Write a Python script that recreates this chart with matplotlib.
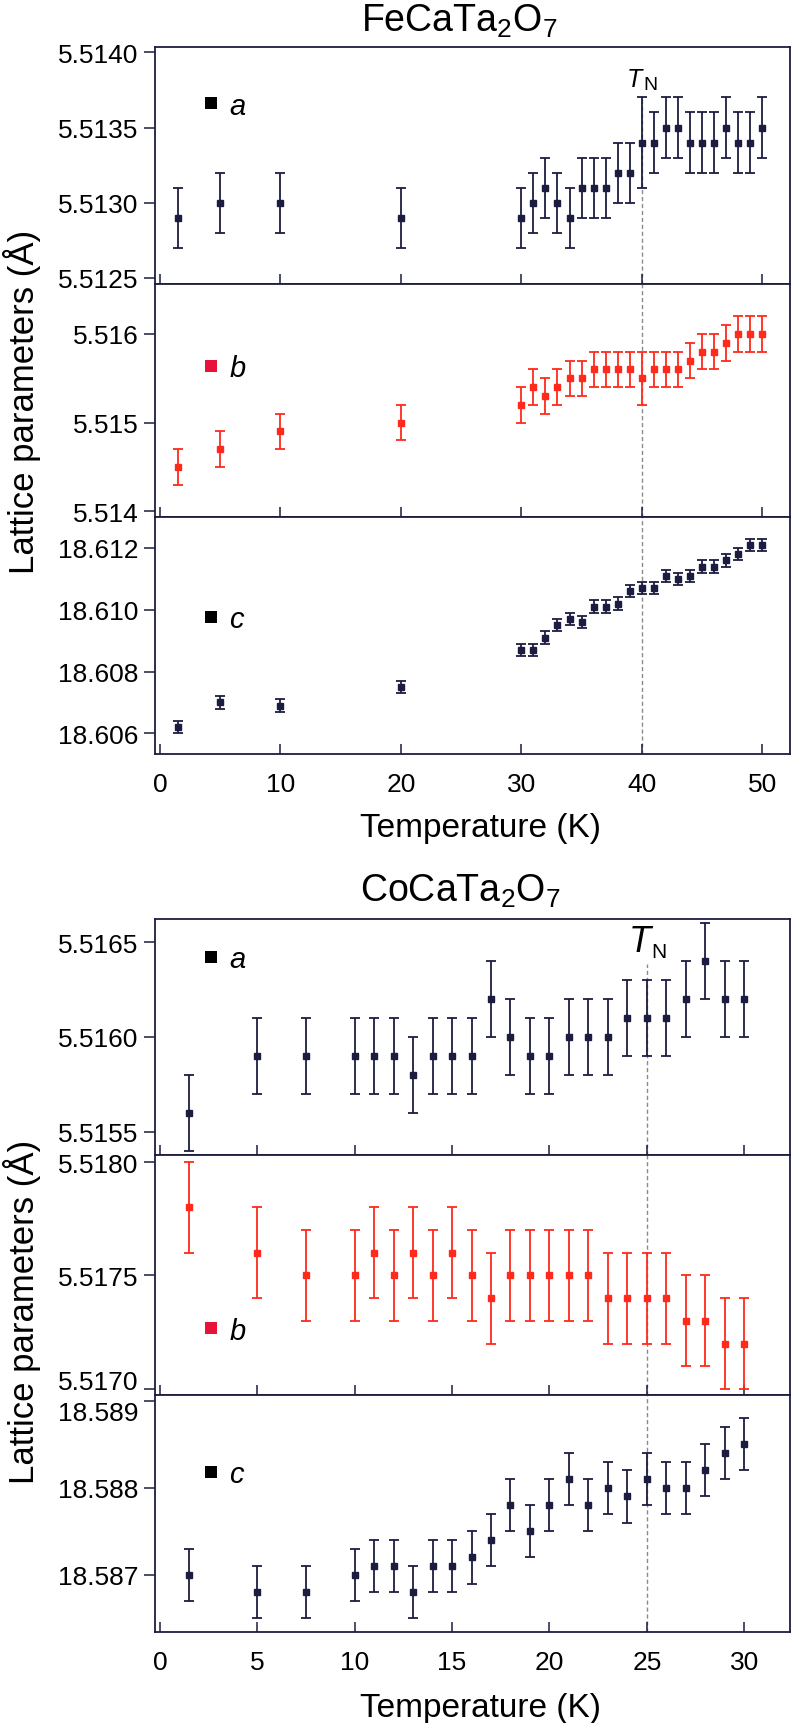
import matplotlib
matplotlib.use("Agg")
import matplotlib.pyplot as plt
from matplotlib.lines import Line2D
from matplotlib.ticker import FormatStrFormatter

plt.rcParams['font.family'] = ['Liberation Sans', 'DejaVu Sans']
plt.rcParams['mathtext.fontset'] = 'custom'
plt.rcParams['mathtext.rm'] = 'Liberation Sans'
plt.rcParams['mathtext.it'] = 'Liberation Sans:italic'

# FeCaTa2O7
fe_T = [1.5, 5, 10, 20, 30, 31, 32, 33, 34, 35, 36, 37, 38, 39, 40,
        41, 42, 43, 44, 45, 46, 47, 48, 49, 50]
fe_a = [5.5129, 5.5130, 5.5130, 5.5129, 5.5129, 5.5130, 5.5131, 5.5130, 5.5129,
        5.5131, 5.5131, 5.5131, 5.5132, 5.5132, 5.5134, 5.5134, 5.5135, 5.5135,
        5.5134, 5.5134, 5.5134, 5.5135, 5.5134, 5.5134, 5.5135]
fe_a_err = [0.0002] * 14 + [0.0003] + [0.0002] * 10
fe_b = [5.5145, 5.5147, 5.5149, 5.5150, 5.5152, 5.5154, 5.5153, 5.5154, 5.5155,
        5.5155, 5.5156, 5.5156, 5.5156, 5.5156, 5.5155, 5.5156, 5.5156, 5.5156,
        5.5157, 5.5158, 5.5158, 5.5159, 5.5160, 5.5160, 5.5160]
fe_b_err = [0.0002] * 14 + [0.0003] + [0.0002] * 10
fe_c = [18.6062, 18.6070, 18.6069, 18.6075, 18.6087, 18.6087, 18.6091, 18.6095,
        18.6097, 18.6096, 18.6101, 18.6101, 18.6102, 18.6106, 18.6107, 18.6107,
        18.6111, 18.6110, 18.6111, 18.6114, 18.6114, 18.6116, 18.6118, 18.6121,
        18.6121]
fe_c_err = [0.0002] * 25
fe_TN = 40

# CoCaTa2O7
co_T = [1.5, 5, 7.5, 10, 11, 12, 13, 14, 15, 16, 17, 18, 19, 20,
        21, 22, 23, 24, 25, 26, 27, 28, 29, 30]
co_a = [5.5156, 5.5159, 5.5159, 5.5159, 5.5159, 5.5159, 5.5158, 5.5159, 5.5159,
        5.5159, 5.5162, 5.5160, 5.5159, 5.5159, 5.5160, 5.5160, 5.5160, 5.5161,
        5.5161, 5.5161, 5.5162, 5.5164, 5.5162, 5.5162]
co_a_err = [0.0002] * 24
co_b = [5.5178, 5.5176, 5.5175, 5.5175, 5.5176, 5.5175, 5.5176, 5.5175, 5.5176,
        5.5175, 5.5174, 5.5175, 5.5175, 5.5175, 5.5175, 5.5175, 5.5174, 5.5174,
        5.5174, 5.5174, 5.5173, 5.5173, 5.5172, 5.5172]
co_b_err = [0.0002] * 24
co_c = [18.5870, 18.5868, 18.5868, 18.5870, 18.5871, 18.5871, 18.5868, 18.5871,
        18.5871, 18.5872, 18.5874, 18.5878, 18.5875, 18.5878, 18.5881, 18.5878,
        18.5880, 18.5879, 18.5881, 18.5880, 18.5880, 18.5882, 18.5884, 18.5885]
co_c_err = [0.0003] * 24
co_TN = 25

navy = '#1c1c40'
red = '#ff2a1c'
W, H = 793, 1724


def add_ax(fig, top, bottom):
    return fig.add_axes([154.8 / W, 1 - bottom / H, (790 - 154.8) / W, (bottom - top) / H])


def panel(ax, T, y, err, col, xlim, xticks, ylim, yticks, fmt,
          letter, lcol, ly, tn, vtop=1.0, bottom=False):
    ax.axvline(tn, ymax=vtop, color='#8a8a8a', lw=1.0, ls=(0, (3, 2)), zorder=1)
    ax.errorbar(T, y, yerr=err, fmt='s', ms=4.6, color=col, ecolor=col,
                elinewidth=1.3, capsize=3.3, capthick=1.3, zorder=3)
    ax.set_xlim(*xlim)
    ax.set_ylim(*ylim)
    ax.set_xticks(xticks)
    ax.set_yticks(yticks)
    ax.yaxis.set_major_formatter(FormatStrFormatter(fmt))
    ax.tick_params(axis='x', direction='in', length=7.5, width=1.1, color=navy,
                   labelsize=19, pad=13, labelbottom=bottom)
    ax.tick_params(axis='y', direction='out', length=8, width=1.1, color=navy,
                   labelsize=19, pad=3.5)
    for s in ax.spines.values():
        s.set_color(navy)
        s.set_linewidth(1.3)
    h = Line2D([], [], marker='s', ls='', color=lcol, ms=9, mew=0)
    ax.legend([h], [letter], loc='center left', bbox_to_anchor=(0.0775, ly),
              frameon=False, borderpad=0, borderaxespad=0, handlelength=0.5,
              handletextpad=0.36, prop={'style': 'italic', 'size': 21})


def tn_label(ax, tn, ty, ny, tsize, nsize, dx):
    ax.annotate('T', xy=(tn, ty), xycoords=('data', 'axes fraction'),
                xytext=(dx, 0), textcoords='offset points', ha='right',
                va='baseline', fontsize=tsize, style='italic')
    ax.annotate('N', xy=(tn, ny), xycoords=('data', 'axes fraction'),
                xytext=(dx + 0.5, 0), textcoords='offset points', ha='left',
                va='baseline', fontsize=nsize)


fig = plt.figure(figsize=(W / 100, H / 100), dpi=100)

# Fe panels
fx = (-0.42, 52.3)
fxt = [0, 10, 20, 30, 40, 50]
ax1 = add_ax(fig, 48, 285)
panel(ax1, fe_T, fe_a, fe_a_err, navy, fx, fxt, (5.51246, 5.514035),
      [5.5125, 5.5130, 5.5135, 5.5140], '%.4f', 'a', 'black', 0.753, fe_TN, vtop=0.79)
tn_label(ax1, fe_TN, 0.835, 0.823, 18, 14, 0.5)
ax2 = add_ax(fig, 285, 518)
panel(ax2, fe_T, fe_b, fe_b_err, red, fx, fxt, (5.513935, 5.516563),
      [5.514, 5.515, 5.516], '%.3f', 'b', '#e8133a', 0.638, fe_TN)
ax3 = add_ax(fig, 518, 755)
panel(ax3, fe_T, fe_c, fe_c_err, navy, fx, fxt, (18.60533, 18.613003),
      [18.606, 18.608, 18.610, 18.612], '%.3f', 'c', 'black', 0.57, fe_TN, bottom=True)

# Co panels
cx = (-0.26, 32.35)
cxt = [0, 5, 10, 15, 20, 25, 30]
ax4 = add_ax(fig, 920, 1156)
panel(ax4, co_T, co_a, co_a_err, navy, cx, cxt, (5.515377, 5.516623),
      [5.5155, 5.5160, 5.5165], '%.4f', 'a', 'black', 0.83, co_TN, vtop=0.81)
tn_label(ax4, co_TN, 0.864, 0.839, 26, 15, 2.7)
ax5 = add_ax(fig, 1156, 1396)
panel(ax5, co_T, co_b, co_b_err, red, cx, cxt, (5.516973, 5.518031),
      [5.5170, 5.5175, 5.5180], '%.4f', 'b', '#e8133a', 0.268, co_TN)
ax6 = add_ax(fig, 1396, 1633)
panel(ax6, co_T, co_c, co_c_err, navy, cx, cxt, (18.586343, 18.589065),
      [18.587, 18.588, 18.589], '%.3f', 'c', 'black', 0.667, co_TN, bottom=True)

# the two labels meeting at the b/c boundary are nudged apart, as in the original
ax5.yaxis.get_major_ticks()[0].label1.set_va('baseline')
ax6.yaxis.get_major_ticks()[-1].label1.set_va('top')

# titles and axis labels
fig.text(459 / W, 1 - 32 / H, r'FeCaTa$_2$O$_7$', ha='center', va='baseline', fontsize=27)
fig.text(460 / W, 1 - 902 / H, r'CoCaTa$_2$O$_7$', ha='center', va='baseline', fontsize=27)
fig.text(481 / W, 1 - 837 / H, 'Temperature (K)', ha='center', va='baseline', fontsize=24)
fig.text(481 / W, 1 - 1717 / H, 'Temperature (K)', ha='center', va='baseline', fontsize=24)
fig.text(22 / W, 1 - 402 / H, 'Lattice parameters (Å)', ha='center', va='center',
         rotation=90, fontsize=25)
fig.text(22 / W, 1 - 1312 / H, 'Lattice parameters (Å)', ha='center', va='center',
         rotation=90, fontsize=25)

fig.savefig('out.png', dpi=100)
